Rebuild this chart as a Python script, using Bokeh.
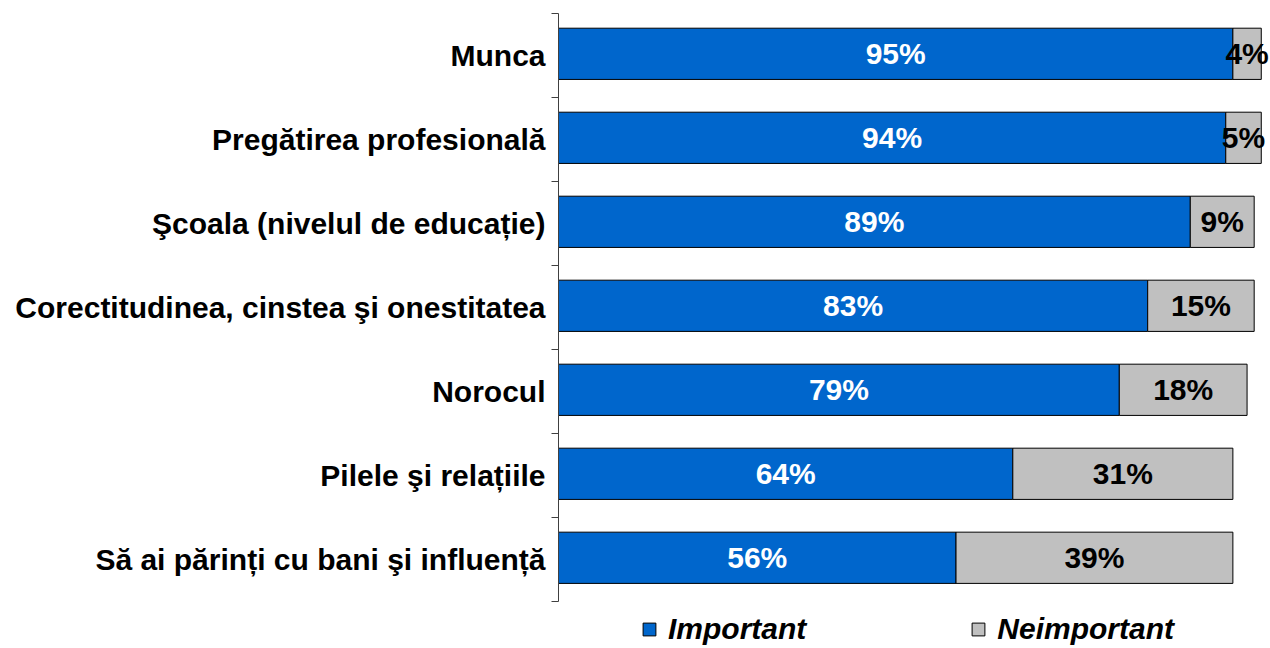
from bokeh.plotting import figure
from bokeh.models import ColumnDataSource, FixedTicker, Range1d, Legend, LegendItem
from bokeh.core.properties import value
from bokeh.embed import file_html
from bokeh.resources import INLINE

categories = ["Munca", "Pregătirea profesională", "Şcoala (nivelul de educație)",
              "Corectitudinea, cinstea şi onestitatea", "Norocul",
              "Pilele şi relațiile", "Să ai părinți cu bani şi influență"]
important = [95, 94, 89, 83, 79, 64, 56]
neimportant = [4, 5, 9, 15, 18, 31, 39]
series_names = ["Important", "Neimportant"]

n = len(categories)
ypos = [n - i - 0.5 for i in range(n)]
bar_y = [y + 0.02 for y in ypos]
src = ColumnDataSource(dict(
    y=bar_y,
    imp_end=important,
    nei_end=[a + b for a, b in zip(important, neimportant)],
    imp_mid=[a / 2 for a in important],
    nei_mid=[a + b / 2 for a, b in zip(important, neimportant)],
    imp_lbl=[f"{v}%" for v in important],
    nei_lbl=[f"{v}%" for v in neimportant],
))

FONT = "Liberation Sans"

p = figure(width=1270, height=648, output_backend="svg", toolbar_location=None,
           x_range=Range1d(0, 100.3), y_range=Range1d(-0.56, n),
           min_border_left=558, min_border_right=0, min_border_top=13, min_border_bottom=0)
p.outline_line_color = None
p.grid.visible = False
p.xaxis.visible = False
p.background_fill_color = "white"
p.border_fill_color = "white"

r1 = p.hbar(y="y", left=0, right="imp_end", height=0.61, source=src,
            fill_color="#0066CC", line_color="black", line_width=1)
r2 = p.hbar(y="y", left="imp_end", right="nei_end", height=0.61, source=src,
            fill_color="#C0C0C0", line_color="black", line_width=1)

p.text(x="imp_mid", y="y", text="imp_lbl", source=src, text_align="center",
       text_baseline="middle", text_color="white", text_font=value(FONT),
       text_font_size="30px", text_font_style="bold")
p.text(x="nei_mid", y="y", text="nei_lbl", source=src, text_align="center",
       text_baseline="middle", text_color="black", text_font=value(FONT),
       text_font_size="30px", text_font_style="bold")

yax = p.yaxis[0]
yax.bounds = (0, n)
yax.ticker = FixedTicker(ticks=ypos, minor_ticks=list(range(n + 1)))
yax.major_label_overrides = {y: c for y, c in zip(ypos, categories)}
yax.major_tick_out = 0
yax.major_tick_in = 0
yax.minor_tick_out = 7
yax.minor_tick_in = 0
yax.minor_tick_line_color = "#404040"
yax.axis_line_color = "#404040"
yax.major_label_standoff = 6
yax.major_label_text_font = FONT
yax.major_label_text_font_size = "30px"
yax.major_label_text_font_style = "bold"
yax.major_label_text_color = "black"

legend = Legend(items=[LegendItem(label=series_names[0], renderers=[r1]),
                       LegendItem(label=series_names[1], renderers=[r2])],
                location=(83, 2), orientation="horizontal",
                glyph_width=16, glyph_height=16, label_standoff=11, spacing=164,
                padding=0, margin=0, border_line_alpha=0, background_fill_alpha=0,
                label_text_font=FONT, label_text_font_size="30px",
                label_text_font_style="bold italic", label_text_color="black")
p.add_layout(legend)

open("out.html", "w").write(file_html(p, INLINE))
